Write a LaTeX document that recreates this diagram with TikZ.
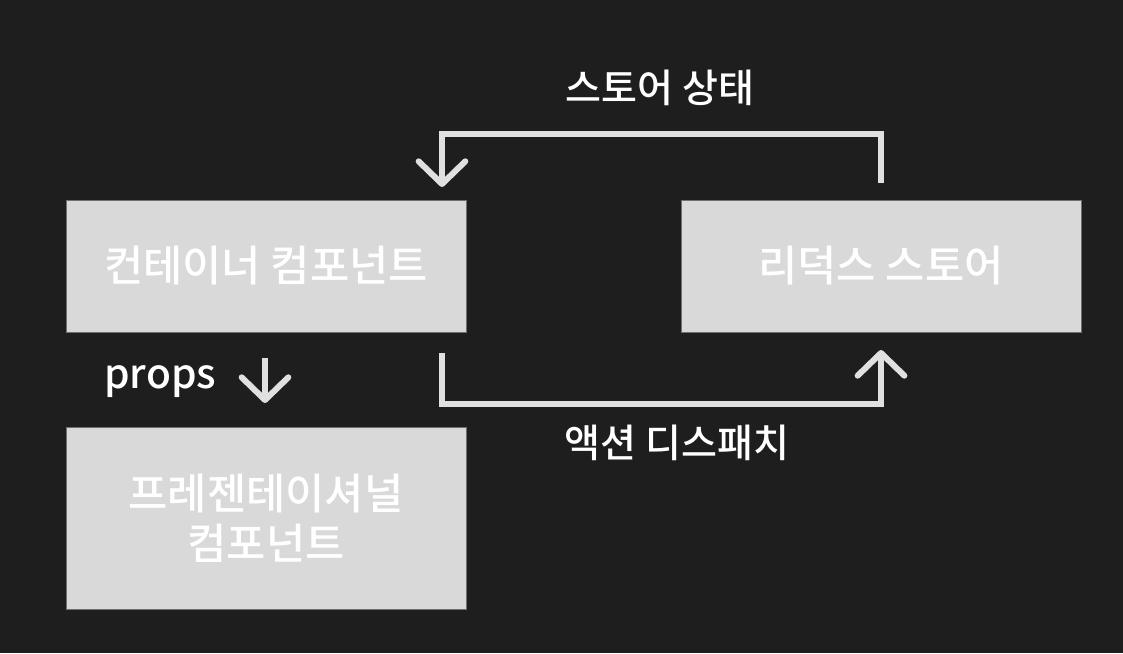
\documentclass[tikz,border=0pt]{standalone}
\usepackage{fontspec}
\newfontfamily\kr{Noto Sans CJK KR Medium}
\usetikzlibrary{arrows.meta}
\definecolor{bg}{HTML}{1E1E1E}
\definecolor{boxfill}{HTML}{D9D9D9}
\definecolor{boxline}{HTML}{707070}
\definecolor{arr}{HTML}{E0E0E0}
\tikzset{
  box/.style={rectangle, fill=boxfill, draw=boxline, line width=0.75pt, inner sep=0pt,
    minimum width=300pt, text=white, font=\kr\fontsize{32pt}{37.5pt}\selectfont, align=center},
  lbl/.style={text=white, font=\kr\fontsize{29.3pt}{33pt}\selectfont, inner sep=0pt},
  conn/.style={draw=arr, line width=4.5pt, line join=miter,
    -{Straight Barb[length=17pt,width=35pt,line cap=round,round]}},
}
\begin{document}
\begin{tikzpicture}[x=0.75pt,y=-0.75pt]
\fill[bg] (0,0) rectangle (1123,653);
\useasboundingbox (0,0) rectangle (1123,653);
\node[box, minimum height=99pt] (cont) at (266,266) {컨테이너 컴포넌트};
\node[box, minimum height=99pt] (store) at (881,266) {리덕스 스토어};
\node[box, minimum height=136.5pt] (pres) at (266,518) {프레젠테이셔널\\컴포넌트};
\coordinate (t1) at (881,183);
\coordinate (t2) at (442,187);
\coordinate (b1) at (442,353);
\coordinate (b2) at (881,350);
\coordinate (p1) at (265,358);
\coordinate (p2) at (265,403);
\draw[conn] (t1) -- (881,134) -| (t2);
\draw[conn] (b1) -- (442,404) -| (b2);
\draw[conn] (p1) -- (p2);
\node[lbl] (l1) at (660,88) {스토어 상태};
\node[lbl] (l2) at (677,443) {액션 디스패치};
\node[lbl, anchor=base west, font=\kr\fontsize{30.5pt}{36pt}\selectfont] (l3) at (104,388) {props};
\end{tikzpicture}
\end{document}
